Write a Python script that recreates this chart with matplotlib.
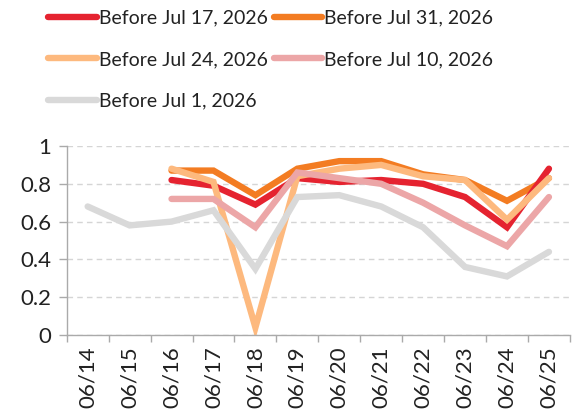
import matplotlib
matplotlib.use("Agg")
import matplotlib.pyplot as plt
import numpy as np

plt.rcParams['font.family'] = ['Lato', 'DejaVu Sans']

categories = ["06/14", "06/15", "06/16", "06/17", "06/18", "06/19",
              "06/20", "06/21", "06/22", "06/23", "06/24", "06/25"]

jul17 = [None, None, 0.82, 0.79, 0.69, 0.83, 0.81, 0.82, 0.80, 0.73, 0.57, 0.88]
jul31 = [None, None, 0.87, 0.87, 0.74, 0.88, 0.92, 0.92, 0.85, 0.82, 0.71, 0.83]
jul24 = [None, None, 0.88, 0.81, 0.04, 0.84, 0.88, 0.90, 0.84, 0.82, 0.61, 0.83]
jul10 = [None, None, 0.72, 0.72, 0.57, 0.86, 0.83, 0.80, 0.70, 0.58, 0.47, 0.73]
jul1 = [0.68, 0.58, 0.60, 0.66, 0.35, 0.73, 0.74, 0.68, 0.57, 0.36, 0.31, 0.44]

labels = ["Before Jul 17, 2026", "Before Jul 31, 2026", "Before Jul 24, 2026",
          "Before Jul 10, 2026", "Before Jul 1, 2026"]
colors = {"jul17": "#E52330", "jul31": "#F37C22", "jul24": "#FDB97E",
          "jul10": "#ECA6A7", "jul1": "#D9D9D9"}

FS = 16
LFS = 14

fig = plt.figure(figsize=(5.78, 4.16), dpi=100)
ax = fig.add_axes([0.1154, 0.1947, 0.8706, 0.4543])

x = np.arange(len(categories))

def arr(v):
    return np.array([np.nan if a is None else a for a in v], dtype=float)

lw = 4.6
kw = dict(linewidth=lw, solid_capstyle='round', solid_joinstyle='miter')
h31, = ax.plot(x, arr(jul31), color=colors["jul31"], label=labels[1], **kw)
h17, = ax.plot(x, arr(jul17), color=colors["jul17"], label=labels[0], **kw)
h24, = ax.plot(x, arr(jul24), color=colors["jul24"], label=labels[2], **kw)
h10, = ax.plot(x, arr(jul10), color=colors["jul10"], label=labels[3], **kw)
h1, = ax.plot(x, arr(jul1), color=colors["jul1"], label=labels[4], **kw)

ax.set_xlim(-0.5, len(categories) - 0.5)
ax.set_ylim(0, 1)
ax.set_yticks([0, 0.2, 0.4, 0.6, 0.8, 1.0])
ax.set_yticklabels(["0", "0.2", "0.4", "0.6", "0.8", "1"])
ax.yaxis.grid(True, color="#D5D5D5", linestyle=(0, (4, 3)), linewidth=1)
ax.set_axisbelow(True)

ax.set_xticks(x)
ax.set_xticklabels(categories, rotation=90)
ax.set_xticks(np.arange(-0.5, len(categories), 1), minor=True)
ax.tick_params(axis='x', which='major', length=0, pad=8, labelsize=FS, labelcolor="#222222")
ax.tick_params(axis='x', which='minor', length=5, color="#AAAAAA", width=1)
ax.tick_params(axis='y', length=6, color="#AAAAAA", width=1, labelsize=FS,
               labelcolor="#222222", pad=5)

for s in ["top", "right"]:
    ax.spines[s].set_visible(False)
for s in ["left", "bottom"]:
    ax.spines[s].set_color("#AAAAAA")
    ax.spines[s].set_linewidth(1)

handles = [h17, h24, h1, h31, h10]
leg = fig.legend(handles=handles, labels=[h.get_label() for h in handles],
                 ncol=2, frameon=False, fontsize=LFS, loc='upper left',
                 bbox_to_anchor=(0.07, 0.995), handlelength=2.5,
                 handletextpad=0.1, columnspacing=0.3, labelspacing=1.25,
                 borderaxespad=0)
for t in leg.get_texts():
    t.set_color("#222222")

fig.savefig("out.png", dpi=100)
